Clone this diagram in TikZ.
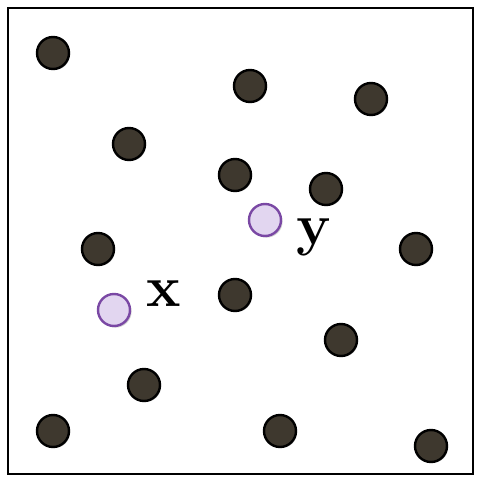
\documentclass[tikz,border=0pt]{standalone}
\usetikzlibrary{shadows}
\definecolor{darkpt}{RGB}{62,56,46}
\definecolor{qfill}{RGB}{226,214,240}
\definecolor{qdraw}{RGB}{122,72,164}
\begin{document}
\begin{tikzpicture}[
  x=0.5pt, y=0.5pt,
  dot/.style={circle, draw=black, line width=1.2pt, fill=darkpt, minimum size=16pt, inner sep=0pt,
    drop shadow={shadow xshift=0.6pt, shadow yshift=-0.6pt, opacity=0.3}},
  query/.style={circle, draw=qdraw, line width=1.2pt, fill=qfill, minimum size=16pt, inner sep=0pt,
    drop shadow={shadow xshift=0.8pt, shadow yshift=-0.8pt, opacity=0.35}},
  lab/.style={anchor=base west, inner sep=0pt, font=\fontsize{29}{32}\selectfont\bfseries}
]
\useasboundingbox (0,0) rectangle (477,477);
\draw[line width=0.8pt, drop shadow={shadow xshift=0.6pt, shadow yshift=-0.6pt, opacity=0.25}, fill=white]
  (8,3) rectangle (473,469);

% sample points
\node[dot] (p1) at (53,424) {};
\node[dot] (p2) at (250,391) {};
\node[dot] (p3) at (371,378) {};
\node[dot] (p4) at (129,333) {};
\node[dot] (p5) at (235,302) {};
\node[dot] (p6) at (326,288) {};
\node[dot] (p7) at (98,228) {};
\node[dot] (p8) at (416,228) {};
\node[dot] (p9) at (235,182) {};
\node[dot] (p10) at (341,137) {};
\node[dot] (p11) at (144,92) {};
\node[dot] (p12) at (53,46) {};
\node[dot] (p13) at (280,46) {};
\node[dot] (p14) at (431,31) {};

% query points
\node[query] (qx) at (114,167) {};
\node[query] (qy) at (265,257) {};
\node[lab] (labx) at (146,170) {x};
\node[lab] (laby) at (296,232) {y};
\end{tikzpicture}
\end{document}
